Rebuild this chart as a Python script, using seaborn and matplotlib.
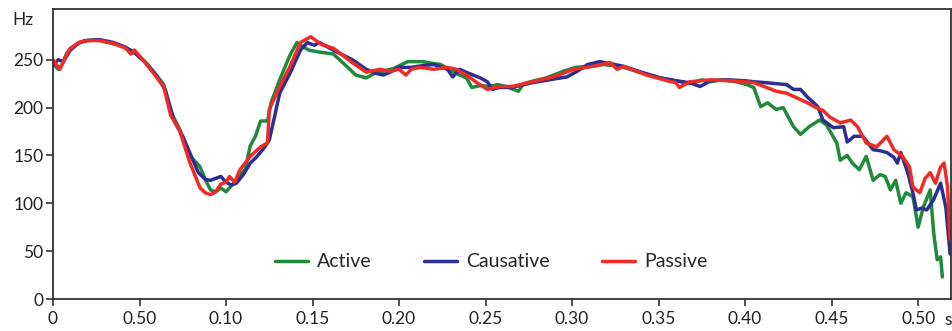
import numpy as np
import pandas as pd
import matplotlib
matplotlib.use("Agg")
import matplotlib.pyplot as plt
import seaborn as sns

# pitch contours (time in s, F0 in Hz)
active_t = [0.000, 0.003, 0.005, 0.008, 0.012, 0.018, 0.025, 0.032, 0.040, 0.046,
            0.052, 0.058, 0.064, 0.068, 0.073, 0.079, 0.085, 0.088, 0.091, 0.094,
            0.097, 0.100, 0.103, 0.106, 0.108, 0.111, 0.114, 0.117, 0.120, 0.124,
            0.126, 0.131, 0.137, 0.141, 0.144, 0.148, 0.154, 0.162, 0.168, 0.175,
            0.181, 0.186, 0.191, 0.197, 0.205, 0.214, 0.220, 0.224, 0.229, 0.235,
            0.239, 0.242, 0.247, 0.252, 0.257, 0.262, 0.269, 0.272, 0.278, 0.285,
            0.295, 0.302, 0.310, 0.318, 0.328, 0.339, 0.351, 0.360, 0.368, 0.375,
            0.380, 0.386, 0.395, 0.401, 0.405, 0.409, 0.413, 0.418, 0.422, 0.428,
            0.432, 0.437, 0.443, 0.447, 0.453, 0.455, 0.459, 0.462, 0.466, 0.470,
            0.474, 0.478, 0.481, 0.484, 0.487, 0.490, 0.493, 0.497, 0.500, 0.503,
            0.507, 0.509, 0.511, 0.513, 0.514]
active_hz = [246, 240, 244, 257, 264, 270, 271, 268, 264, 259,
             250, 238, 224, 196, 178, 150, 138, 125, 114, 112,
             116, 112, 118, 124, 130, 135, 160, 170, 186, 186,
             205, 229, 255, 268, 264, 260, 258, 256, 246, 234,
             231, 236, 238, 241, 248, 248, 246, 245, 240, 234,
             231, 221, 223, 222, 224, 222, 217, 225, 228, 231,
             238, 242, 243, 245, 243, 237, 231, 228, 225, 229,
             227, 229, 227, 224, 221, 201, 205, 198, 200, 180,
             172, 180, 187, 182, 163, 145, 150, 142, 135, 149,
             124, 130, 128, 114, 124, 100, 111, 107, 75, 96,
             114, 69, 41, 44, 23]

causative_t = [0.000, 0.003, 0.006, 0.010, 0.015, 0.020, 0.027, 0.035, 0.042, 0.048,
               0.054, 0.060, 0.065, 0.070, 0.075, 0.079, 0.084, 0.088, 0.091, 0.094,
               0.097, 0.100, 0.103, 0.106, 0.110, 0.114, 0.118, 0.122, 0.125, 0.128,
               0.131, 0.137, 0.143, 0.147, 0.151, 0.154, 0.162, 0.173, 0.181, 0.186,
               0.191, 0.196, 0.200, 0.207, 0.214, 0.220, 0.225, 0.228, 0.231, 0.235,
               0.240, 0.247, 0.251, 0.254, 0.258, 0.265, 0.277, 0.290, 0.297, 0.303,
               0.309, 0.316, 0.322, 0.330, 0.340, 0.351, 0.360, 0.368, 0.374, 0.380,
               0.390, 0.400, 0.405, 0.412, 0.418, 0.424, 0.428, 0.432, 0.436, 0.442,
               0.445, 0.451, 0.457, 0.459, 0.463, 0.468, 0.474, 0.478, 0.482, 0.486,
               0.488, 0.490, 0.494, 0.497, 0.499, 0.502, 0.505, 0.509, 0.513, 0.516,
               0.5185]
causative_hz = [244, 250, 248, 260, 268, 270, 271, 268, 263, 256,
                246, 233, 218, 186, 170, 153, 132, 125, 124, 126,
                128, 122, 119, 121, 130, 142, 149, 158, 166, 190,
                215, 236, 260, 268, 265, 268, 260, 250, 240, 236,
                234, 238, 242, 242, 244, 245, 242, 240, 232, 240,
                236, 231, 227, 219, 221, 221, 226, 230, 232, 238,
                245, 248, 246, 243, 237, 231, 228, 226, 222, 228,
                229, 228, 227, 226, 225, 224, 219, 219, 211, 201,
                187, 179, 180, 164, 170, 170, 156, 155, 153, 148,
                142, 153, 132, 111, 93, 95, 93, 104, 121, 96,
                47]

passive_t = [0.000, 0.004, 0.007, 0.010, 0.015, 0.020, 0.027, 0.035, 0.042, 0.045,
             0.047, 0.052, 0.058, 0.064, 0.068, 0.073, 0.079, 0.085, 0.088, 0.091,
             0.094, 0.097, 0.100, 0.102, 0.105, 0.108, 0.114, 0.120, 0.124, 0.125,
             0.131, 0.137, 0.143, 0.149, 0.155, 0.162, 0.173, 0.181, 0.189, 0.195,
             0.200, 0.204, 0.207, 0.212, 0.220, 0.228, 0.233, 0.239, 0.245, 0.251,
             0.258, 0.265, 0.270, 0.277, 0.289, 0.301, 0.312, 0.322, 0.326, 0.330,
             0.343, 0.355, 0.360, 0.362, 0.368, 0.380, 0.392, 0.400, 0.405, 0.411,
             0.418, 0.424, 0.430, 0.436, 0.441, 0.445, 0.449, 0.455, 0.461, 0.465,
             0.470, 0.476, 0.482, 0.486, 0.491, 0.495, 0.497, 0.501, 0.504, 0.507,
             0.510, 0.513, 0.515, 0.516, 0.517, 0.5185]
passive_hz = [250, 240, 252, 262, 268, 270, 270, 267, 262, 256,
              260, 250, 236, 222, 192, 177, 143, 116, 111, 109,
              112, 120, 122, 128, 122, 135, 149, 159, 163, 198,
              222, 243, 268, 274, 266, 262, 247, 237, 240, 238,
              240, 234, 240, 242, 240, 242, 240, 234, 226, 219,
              222, 222, 224, 227, 232, 240, 243, 247, 240, 243,
              234, 228, 226, 221, 227, 229, 228, 227, 226, 222,
              217, 215, 210, 205, 200, 197, 190, 184, 187, 180,
              163, 159, 170, 156, 149, 138, 117, 111, 126, 132,
              121, 138, 142, 130, 117, 62]

labels = ["Active", "Causative", "Passive"]
colors = ["#1f8a3c", "#2d2e92", "#ee2b25"]
x_ticks = [0, 0.05, 0.10, 0.15, 0.20, 0.25, 0.30, 0.35, 0.40, 0.45, 0.50]
x_tick_labels = ["0", "0.50", "0.10", "0.15", "0.20", "0.25", "0.30", "0.35", "0.40", "0.45", "0.50"]
y_ticks = [0, 50, 100, 150, 200, 250]

frames = []
for name, t, hz in zip(labels, [active_t, causative_t, passive_t],
                       [active_hz, causative_hz, passive_hz]):
    frames.append(pd.DataFrame({"t": t, "hz": hz, "form": name}))
df = pd.concat(frames, ignore_index=True)

sns.set_style("white")
plt.rcParams["font.family"] = ["Lato", "DejaVu Sans"]

fig = plt.figure(figsize=(9.53, 3.31), dpi=100)
ax = fig.add_axes([53 / 953, 32 / 331, 898 / 953, 290 / 331])

sns.lineplot(data=df, x="t", y="hz", hue="form", hue_order=labels,
             palette=colors, estimator=None, sort=False, linewidth=2.5, ax=ax)

ax.set_xlim(0, 0.519)
ax.set_ylim(0, 303)
ax.set_xticks(x_ticks)
ax.set_xticklabels(x_tick_labels)
ax.set_yticks(y_ticks)
ax.set_xlabel("")
ax.set_ylabel("")
ax.tick_params(axis="both", direction="out", length=5, width=1.2,
               colors="#333333", labelsize=12.5, labelcolor="#222222")
ax.tick_params(axis="x", bottom=True, pad=4)
ax.tick_params(axis="y", left=True, pad=2)
for sp in ax.spines.values():
    sp.set_color("#333333")
    sp.set_linewidth(1.3)

fig.text(12 / 953, 1 - 20 / 331, "Hz", fontsize=12.5, color="#222222", va="center", ha="left")
fig.text(948 / 953, 1 - 320 / 331, "s", fontsize=12.5, color="#222222", va="center", ha="center")

leg = ax.legend(loc="center", bbox_to_anchor=(0.488, 0.128), ncol=3, frameon=False,
                fontsize=14, handlelength=1.7, handletextpad=0.45, columnspacing=2.7)
for line in leg.get_lines():
    line.set_linewidth(2.5)

fig.savefig("out.png", dpi=100)
